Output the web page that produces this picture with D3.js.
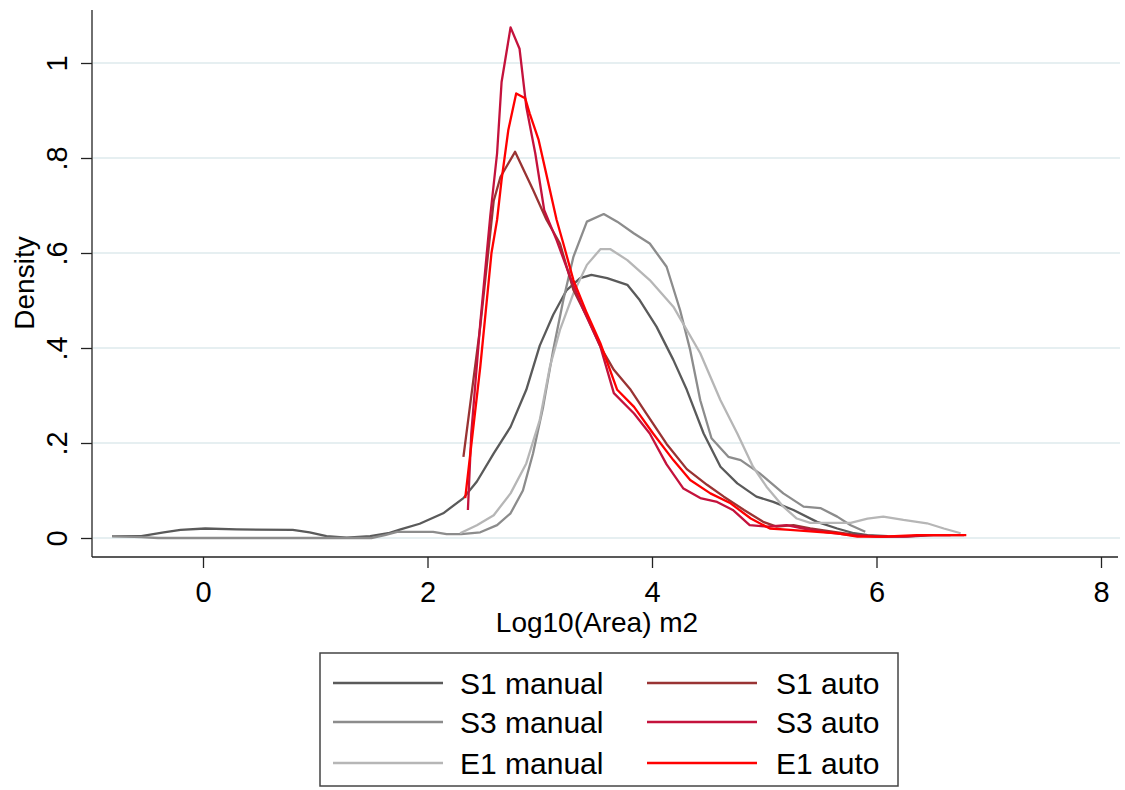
<!DOCTYPE html>
<html>
<head>
<meta charset="utf-8">
<script src="https://cdn.jsdelivr.net/npm/d3@7"></script>
<style>
  html, body { margin: 0; padding: 0; background: #fff; }
  svg { display: block; }
  text { font-family: "Liberation Sans", Arial, sans-serif; fill: #000; }
</style>
</head>
<body>
<svg id="chart" width="1125" height="790"></svg>
<script>
// ---- data ----
const xTicks = [0, 2, 4, 6, 8];
const yTicks = [0, 0.2, 0.4, 0.6, 0.8, 1];
const yTickLabels = ["0", ".2", ".4", ".6", ".8", "1"];
const seriesNames = ["S1 manual", "S3 manual", "E1 manual", "S1 auto", "S3 auto", "E1 auto"];
const seriesColors = ["#5a5a5a", "#8c8c8c", "#b6b6b6", "#993333", "#c4123c", "#ff0000"];

const s1ManualX = [-0.81,-0.55,-0.35,-0.2,0.02,0.3,0.8,0.95,1.1,1.28,1.49,1.65,1.76,1.93,2.14,2.32,2.44,2.59,2.74,2.88,3.0,3.12,3.24,3.36,3.46,3.60,3.78,3.89,4.04,4.19,4.31,4.46,4.61,4.76,4.93,5.08,5.26,5.47,5.65,5.80,5.92,6.1];
const s1ManualY = [0.004,0.004,0.012,0.017,0.020,0.018,0.017,0.012,0.004,0.001,0.004,0.010,0.018,0.030,0.052,0.084,0.119,0.178,0.234,0.312,0.405,0.470,0.522,0.547,0.554,0.547,0.533,0.501,0.445,0.375,0.312,0.220,0.150,0.115,0.087,0.076,0.059,0.034,0.020,0.010,0.006,0.004];

const s3ManualX = [-0.81,-0.55,-0.4,1.5,1.62,1.73,2.05,2.17,2.3,2.47,2.62,2.74,2.85,2.94,3.03,3.12,3.21,3.30,3.42,3.57,3.69,3.84,3.98,4.13,4.25,4.34,4.43,4.53,4.68,4.79,4.96,5.17,5.35,5.50,5.65,5.77,5.90];
const s3ManualY = [0.004,0.002,0.0,0.0,0.006,0.013,0.013,0.008,0.008,0.012,0.027,0.052,0.100,0.178,0.276,0.396,0.501,0.592,0.666,0.682,0.666,0.641,0.620,0.571,0.480,0.396,0.290,0.210,0.171,0.164,0.136,0.094,0.066,0.063,0.045,0.027,0.013];

const e1ManualX = [2.29,2.44,2.59,2.74,2.88,3.0,3.09,3.18,3.30,3.42,3.54,3.63,3.78,3.98,4.19,4.43,4.61,4.76,4.90,5.02,5.17,5.29,5.41,5.77,5.92,6.06,6.24,6.45,6.60,6.75];
const e1ManualY = [0.010,0.027,0.048,0.094,0.157,0.248,0.360,0.438,0.515,0.575,0.608,0.608,0.585,0.543,0.487,0.389,0.290,0.220,0.150,0.108,0.066,0.041,0.032,0.032,0.041,0.045,0.038,0.031,0.020,0.010];

const s1AutoX = [2.32,2.47,2.59,2.65,2.78,2.94,3.06,3.18,3.30,3.42,3.54,3.66,3.81,3.95,4.13,4.31,4.49,4.64,4.82,4.99,5.11,5.26,5.41,5.62,5.83,6.06,6.27,6.51,6.78];
const s1AutoY = [0.171,0.445,0.710,0.760,0.813,0.733,0.670,0.620,0.522,0.466,0.403,0.354,0.312,0.262,0.198,0.145,0.112,0.087,0.059,0.034,0.024,0.027,0.020,0.013,0.006,0.003,0.003,0.006,0.006];

const s3AutoX = [2.36,2.39,2.47,2.56,2.62,2.66,2.74,2.82,2.88,2.96,3.04,3.15,3.27,3.39,3.54,3.66,3.84,3.98,4.13,4.28,4.43,4.58,4.72,4.87,5.02,5.20,5.35,5.53,5.77,6.0,6.24,6.45,6.66];
const s3AutoY = [0.059,0.220,0.452,0.680,0.810,0.960,1.075,1.030,0.908,0.810,0.690,0.627,0.550,0.480,0.403,0.305,0.262,0.220,0.155,0.104,0.084,0.076,0.059,0.027,0.024,0.027,0.020,0.013,0.006,0.003,0.003,0.006,0.006];

const e1AutoX = [2.336,2.47,2.57,2.62,2.66,2.72,2.79,2.87,2.91,2.99,3.05,3.15,3.21,3.30,3.42,3.54,3.69,3.84,4.01,4.19,4.34,4.52,4.70,4.88,5.05,5.23,5.47,5.65,5.83,6.06,6.36,6.80];
const e1AutoY = [0.084,0.360,0.600,0.670,0.754,0.859,0.936,0.926,0.894,0.838,0.775,0.670,0.620,0.543,0.473,0.410,0.312,0.276,0.220,0.164,0.122,0.094,0.073,0.041,0.020,0.017,0.013,0.010,0.003,0.003,0.006,0.006];

const xLabel = "Log10(Area) m2";
const yLabel = "Density";

// ---- layout ----
const svg = d3.select("#chart");
const plotLeft = 92, plotRight = 1118, plotTop = 10, plotBottom = 557;
const x = d3.scaleLinear().domain([0, 8]).range([203, 1101]);
const y = d3.scaleLinear().domain([0, 1]).range([538, 63]);

// gridlines
svg.append("g").selectAll("line").data(yTicks).join("line")
  .attr("x1", plotLeft + 1).attr("x2", 1120)
  .attr("y1", d => y(d)).attr("y2", d => y(d))
  .attr("stroke", "#e6eff1").attr("stroke-width", 2);

// y axis
const yAxis = d3.axisLeft(y).tickValues(yTicks).tickSize(11)
  .tickFormat((d, i) => yTickLabels[i]);
const gy = svg.append("g").attr("transform", `translate(${plotLeft},0)`).call(yAxis);
gy.select(".domain").remove();
gy.selectAll(".tick line").attr("stroke", "#222").attr("stroke-width", 1.3);
gy.selectAll(".tick text")
  .attr("x", null)
  .attr("text-anchor", "middle")
  .attr("font-size", 29)
  .attr("transform", "translate(-25,0) rotate(-90)")
  .attr("dy", "0");
svg.append("line").attr("x1", plotLeft).attr("x2", plotLeft)
  .attr("y1", plotTop).attr("y2", plotBottom)
  .attr("stroke", "#222").attr("stroke-width", 1.3);

// x axis
const xAxis = d3.axisBottom(x).tickValues(xTicks).tickSize(11).tickFormat(d3.format("d"));
const gx = svg.append("g").attr("transform", `translate(0,${plotBottom})`).call(xAxis);
gx.select(".domain").remove();
gx.selectAll(".tick line").attr("stroke", "#222").attr("stroke-width", 1.3);
gx.selectAll(".tick text").attr("font-size", 29).attr("y", 24).attr("dy", "0.71em");
svg.append("line").attr("x1", plotLeft).attr("x2", plotRight)
  .attr("y1", plotBottom).attr("y2", plotBottom)
  .attr("stroke", "#222").attr("stroke-width", 1.3);

// axis titles
svg.append("text").attr("x", 597).attr("y", 632).attr("text-anchor", "middle")
  .attr("font-size", 28).text(xLabel);
svg.append("text").attr("transform", "translate(34,283) rotate(-90)")
  .attr("text-anchor", "middle").attr("font-size", 28).text(yLabel);

// series
const seriesData = [
  [s1ManualX, s1ManualY], [s3ManualX, s3ManualY], [e1ManualX, e1ManualY],
  [s1AutoX, s1AutoY], [s3AutoX, s3AutoY], [e1AutoX, e1AutoY]
];
const line = d3.line().x(d => x(d[0])).y(d => y(d[1]));
seriesData.forEach((s, i) => {
  const pts = s[0].map((v, j) => [v, s[1][j]]);
  svg.append("path").datum(pts)
    .attr("d", line).attr("fill", "none")
    .attr("stroke", seriesColors[i]).attr("stroke-width", 2.3)
    .attr("stroke-linejoin", "round");
});

// legend
const lg = svg.append("g");
lg.append("rect").attr("x", 320).attr("y", 653).attr("width", 578).attr("height", 133)
  .attr("fill", "#fff").attr("stroke", "#444").attr("stroke-width", 1.5);
const rowY = [683, 722, 763];
seriesNames.forEach((name, i) => {
  const col = Math.floor(i / 3), row = i % 3;
  const lx = col === 0 ? 333 : 647;
  const tx = col === 0 ? 460 : 776;
  lg.append("line").attr("x1", lx).attr("x2", lx + 110)
    .attr("y1", rowY[row]).attr("y2", rowY[row])
    .attr("stroke", seriesColors[i]).attr("stroke-width", 2.3);
  lg.append("text").attr("x", tx).attr("y", rowY[row]).attr("dy", "0.36em")
    .attr("font-size", 30).text(name);
});
</script>
</body>
</html>
